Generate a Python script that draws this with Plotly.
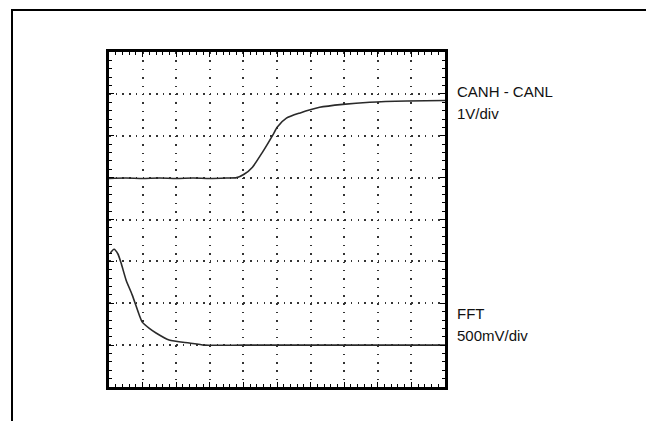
import plotly.graph_objects as go

# Oscilloscope screen: 10 horizontal divisions x 8 vertical divisions
canh_x = [0.0, 0.5, 1.0, 1.5, 2.0, 2.5, 3.0, 3.5, 3.8, 4.02, 4.27, 4.57, 4.87, 5.01, 5.28, 5.67, 6.27, 6.96, 7.76, 8.87, 10.0]
canh_y = [4.98, 4.99, 4.98, 4.99, 4.98, 4.99, 4.98, 4.99, 5.0, 5.08, 5.25, 5.61, 6.01, 6.21, 6.42, 6.54, 6.68, 6.75, 6.80, 6.83, 6.84]

fft_x = [0.04, 0.15, 0.27, 0.36, 0.51, 0.69, 0.90, 0.99, 1.20, 1.40, 1.79, 2.39, 2.84, 4.0, 6.0, 8.0, 10.0]
fft_y = [3.20, 3.29, 3.17, 2.96, 2.55, 2.20, 1.72, 1.55, 1.40, 1.29, 1.12, 1.05, 1.00, 1.0, 1.0, 1.0, 1.0]

labels = [
    ("CANH - CANL", 91),
    ("1V/div", 113),
    ("FFT", 313),
    ("500mV/div", 335),
]

TRACE_COLOR = "#2a2a2a"

fig = go.Figure()
fig.add_trace(go.Scatter(x=canh_x, y=canh_y, mode="lines",
                         line=dict(color=TRACE_COLOR, width=1.6, shape="spline", smoothing=0.6),
                         showlegend=False, hoverinfo="skip"))
fig.add_trace(go.Scatter(x=fft_x, y=fft_y, mode="lines",
                         line=dict(color=TRACE_COLOR, width=1.6, shape="spline", smoothing=0.6),
                         showlegend=False, hoverinfo="skip"))

OFF = 8  # page body margin
W, H = 654 - OFF, 421 - OFF
L, R, T, B = 109 - OFF, 445 - OFF, 52 - OFF, 387 - OFF
pw, ph = R - L, B - T

common = dict(showticklabels=False, zeroline=False,
              showline=True, linecolor="black", linewidth=3, mirror="allticks",
              ticks="inside", tickcolor="black", tickwidth=1, ticklen=5, dtick=1, tick0=0,
              showgrid=True, gridcolor="#333333", gridwidth=1.5,
              minor=dict(ticks="inside", ticklen=3, tickcolor="black", tickwidth=1, dtick=0.2, showgrid=False))

xdiv = pw / 10
ydiv = ph / 8
fig.update_xaxes(range=[0, 10], fixedrange=True,
                 griddash="1.5px,%.2fpx" % (ydiv / 5 - 1.5), **common)
fig.update_yaxes(range=[0, 8], fixedrange=True,
                 griddash="1.5px,%.2fpx" % (xdiv / 5 - 1.5), **common)

for text, ypix in labels:
    fig.add_annotation(x=(455 - OFF - L) / pw, y=(B - (ypix - OFF)) / ph,
                       xref="paper", yref="paper", text=text, showarrow=False,
                       xanchor="left", yanchor="middle",
                       font=dict(family="Liberation Sans, Arial, sans-serif", size=15, color="#111111"))

# outer frame around the whole figure
fig.add_shape(type="rect", xref="paper", yref="paper",
              x0=(12 - OFF - L) / pw, x1=(652 - OFF - L) / pw,
              y0=(B - 440) / ph, y1=(B - (10 - OFF)) / ph,
              line=dict(color="black", width=2), layer="above")

fig.update_layout(width=W, height=H,
                  margin=dict(l=L, r=W - R, t=T, b=H - B, pad=0),
                  paper_bgcolor="white", plot_bgcolor="white")

fig.write_html("out.html")
